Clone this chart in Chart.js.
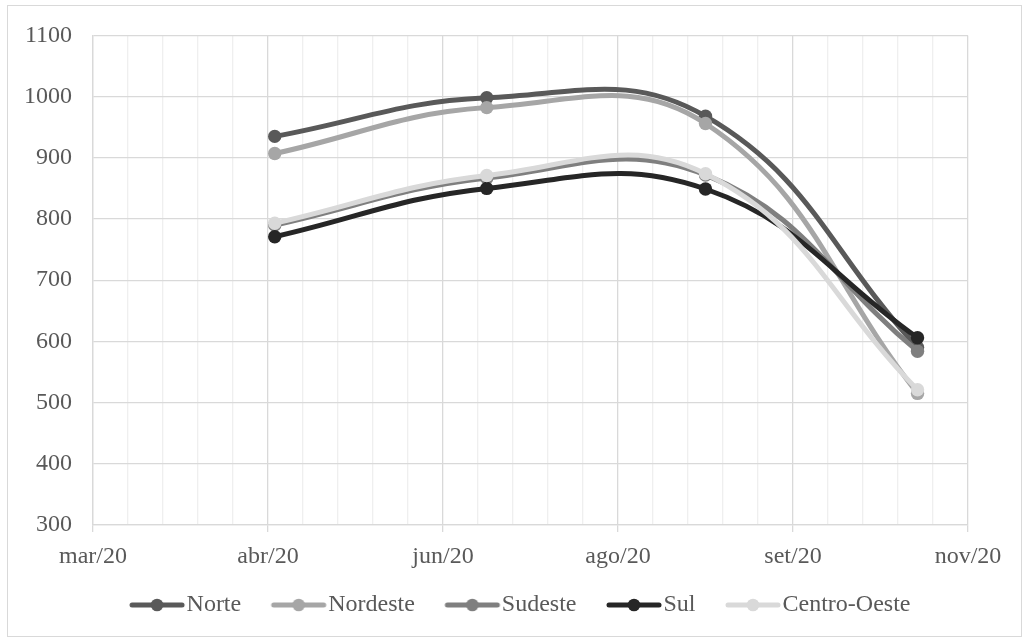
<!DOCTYPE html>
<html>
<head>
<meta charset="utf-8">
<script src="https://cdn.jsdelivr.net/npm/chart.js@4/dist/chart.umd.min.js"></script>
<style>
  html, body { margin: 0; padding: 0; background: #ffffff; }
  #wrap { position: relative; width: 1022px; height: 637px; }
</style>
</head>
<body>
<div id="wrap"><canvas id="c" width="1022" height="637"></canvas></div>
<script>
// ---- data ----
const axisStart = '2020-03-01';
const dates = ['2020-04-24', '2020-06-26', '2020-08-30', '2020-11-01'];
const seriesNames = ['Norte', 'Nordeste', 'Sudeste', 'Sul', 'Centro-Oeste'];
const norte = [935, 998, 968, 590];
const nordeste = [907, 982, 956, 515];
const sudeste = [790, 867, 872, 584];
const sul = [771, 850, 849, 606];
const centroOeste = [793, 871, 874, 521];
const xTickLabels = ['mar/20', 'abr/20', 'jun/20', 'ago/20', 'set/20', 'nov/20'];
const majorStepDays = 52;
const minorPerMajor = 5;
const yMin = 300, yMax = 1100, yStep = 100;

const colors = ['#595959', '#a6a6a6', '#7f7f7f', '#262626', '#d9d9d9'];
const allValues = [norte, nordeste, sudeste, sul, centroOeste];

const dayMs = 86400000;
const toDays = d => Math.round((Date.parse(d) - Date.parse(axisStart)) / dayMs);
const xDays = dates.map(toDays);

const FONT = "'Liberation Serif', 'Times New Roman', serif";
const FS = 24;

// legend geometry
const LEG_PAD = 10;          // Chart.js legend padding
const LEG_GAP = 30;          // visible gap between text end and next marker
const MARK_LEN = 55;         // marker line length
const LEG_DX = -20.5;        // horizontal shift of the legend row
const offs = LEG_GAP - LEG_PAD;               // marker start relative to item x
const PSW = offs + MARK_LEN + 2 - FS / 2;     // pointStyleWidth
const CW = 2 * Math.ceil(Math.max(PSW / 2 - offs, offs + MARK_LEN - PSW / 2) + 4);
const L0 = offs - PSW / 2 + CW / 2;

function legendImage(color) {
  const cv = document.createElement('canvas');
  cv.width = CW; cv.height = 14;
  const g = cv.getContext('2d');
  g.strokeStyle = color; g.lineWidth = 5; g.lineCap = 'round';
  g.beginPath(); g.moveTo(L0 + 2.5, 7); g.lineTo(L0 + MARK_LEN - 2.5, 7); g.stroke();
  g.fillStyle = color;
  g.beginPath(); g.arc(L0 + MARK_LEN / 2, 7, 6.3, 0, Math.PI * 2); g.fill();
  return cv;
}
const legendImgs = colors.map(legendImage);

const datasets = seriesNames.map((name, i) => ({
  label: name,
  data: xDays.map((x, k) => ({ x: x, y: allValues[i][k] })),
  borderColor: colors[i],
  backgroundColor: colors[i],
  pointBackgroundColor: colors[i],
  pointBorderColor: colors[i],
  pointBorderWidth: 0,
  pointRadius: 6.7,
  borderWidth: 5,
  tension: 0.42,
  fill: false,
  order: seriesNames.length - i
}));

const frame = {
  id: 'frame',
  beforeDraw(chart) {
    const ctx = chart.ctx;
    ctx.save();
    ctx.fillStyle = '#ffffff';
    ctx.fillRect(0, 0, chart.width, chart.height);
    ctx.strokeStyle = '#d9d9d9';
    ctx.lineWidth = 1;
    ctx.strokeRect(7.5, 5.5, 1014, 631);
    ctx.restore();
  }
};

const legendShift = {
  id: 'legendShift',
  afterLayout(chart) {
    const lg = chart.legend;
    if (!lg || lg._shifted) return;
    const orig = lg.draw.bind(lg);
    lg.draw = function (area) {
      const c = chart.ctx;
      c.save();
      c.translate(LEG_DX, 0);
      orig(area);
      c.restore();
    };
    lg._shifted = true;
  }
};

const nTicks = (xTickLabels.length - 1) * minorPerMajor + 1;

new Chart(document.getElementById('c'), {
  type: 'line',
  data: { datasets },
  plugins: [frame, legendShift],
  options: {
    responsive: false,
    animation: false,
    events: [],
    layout: { padding: { left: 0, top: 35, right: 54, bottom: 10 } },
    plugins: {
      tooltip: { enabled: false },
      title: { display: false },
      legend: {
        position: 'bottom',
        fullSize: false,
        labels: {
          usePointStyle: true,
          pointStyleWidth: PSW,
          padding: LEG_PAD,
          color: '#595959',
          font: { family: FONT, size: FS },
          generateLabels(chart) {
            return chart.data.datasets.map((ds, i) => ({
              text: ds.label,
              pointStyle: legendImgs[i],
              fillStyle: ds.borderColor,
              strokeStyle: ds.borderColor,
              lineWidth: 0,
              hidden: false,
              datasetIndex: i,
              fontColor: '#595959'
            }));
          }
        }
      }
    },
    scales: {
      x: {
        type: 'linear',
        min: 0,
        max: majorStepDays * (xTickLabels.length - 1),
        afterBuildTicks(scale) {
          scale.ticks = Array.from({ length: nTicks }, (_, i) => ({ value: i * majorStepDays / minorPerMajor }));
        },
        afterFit(scale) { scale.height = 58; },
        ticks: {
          autoSkip: false,
          maxRotation: 0,
          minRotation: 0,
          padding: 10,
          color: '#595959',
          font: { family: FONT, size: FS },
          callback(value, index) {
            return index % minorPerMajor === 0 ? xTickLabels[index / minorPerMajor] : '';
          }
        },
        grid: {
          color: ctx => (ctx.index % minorPerMajor === 0 ? '#d9d9d9' : '#efefef'),
          tickColor: ctx => (ctx.index % minorPerMajor === 0 ? '#d9d9d9' : 'rgba(0,0,0,0)'),
          tickLength: 7,
          lineWidth: 1.3
        },
        border: { display: true, color: '#d9d9d9', width: 1.3 }
      },
      y: {
        min: yMin,
        max: yMax,
        afterFit(scale) { scale.width = 93; },
        ticks: {
          stepSize: yStep,
          padding: 21,
          color: '#595959',
          font: { family: FONT, size: FS },
          callback: v => String(v)
        },
        grid: { color: '#d9d9d9', drawTicks: false, lineWidth: 1.3 },
        border: { display: true, color: '#d9d9d9', width: 1.3 }
      }
    }
  }
});
</script>
</body>
</html>
